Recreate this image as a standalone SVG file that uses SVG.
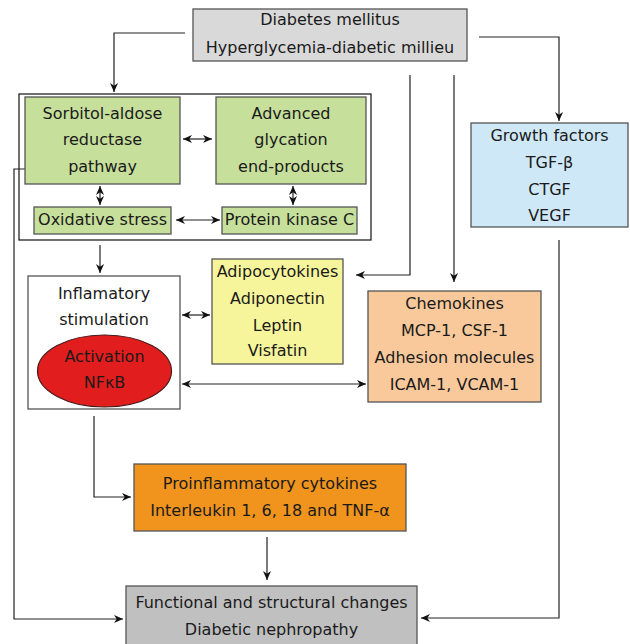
<svg xmlns="http://www.w3.org/2000/svg" width="630" height="644" viewBox="0 0 630 644">
<defs>
<marker id="ah" viewBox="0 0 10 10" refX="10" refY="5" markerWidth="9" markerHeight="9" markerUnits="userSpaceOnUse" orient="auto-start-reverse">
<path d="M0,0.5 L10,5 L0,9.5 L3,5 Z" fill="#111"/>
</marker>
<style>
text{font-family:"DejaVu Sans","Verdana",sans-serif;font-size:16px;fill:#1a1a1a;text-anchor:middle}
.box{stroke:#555;stroke-width:1.3}
.c{fill:none;stroke:#222;stroke-width:1.2}
.a{marker-end:url(#ah)}
.d{marker-start:url(#ah);marker-end:url(#ah)}
</style>
</defs>
<rect width="630" height="644" fill="#fff"/>
<g id="metabolic-group">
<rect x="19" y="94" width="352" height="146" fill="none" stroke="#111" stroke-width="1.2"/>
</g>
<g id="connectors">
<polyline class="c a" points="185,33 114,33 114,92"/>
<polyline class="c a" points="479,37 559,37 559,121"/>
<polyline class="c a" points="410,75 410,275 356,275"/>
<polyline class="c a" points="454,75 454,282"/>
<polyline class="c a" points="25,169 14,169 14,619 123,619"/>
<polyline class="c a" points="559,240 559,618 421,618"/>
<polyline class="c a" points="100,245 100,273"/>
<polyline class="c a" points="94,416 94,497 131,497"/>
<polyline class="c a" points="267,537 267,580"/>
<line class="c d" x1="183" y1="139" x2="212" y2="139"/>
<line class="c d" x1="176" y1="220" x2="220" y2="220"/>
<line class="c d" x1="100" y1="186" x2="100" y2="205"/>
<line class="c d" x1="293" y1="186" x2="293" y2="205"/>
<line class="c d" x1="182" y1="315" x2="210" y2="315"/>
<line class="c d" x1="182" y1="384" x2="366" y2="384"/>
</g>
<g id="diabetes">
<rect class="box" x="193" y="9" width="274" height="52" fill="#d9d9d9"/>
<text x="330" y="25">Diabetes mellitus</text>
<text x="330" y="53">Hyperglycemia-diabetic millieu</text>
</g>
<g id="sorbitol">
<rect class="box" x="25" y="97" width="155" height="87" fill="#c6df9b" stroke="#3d4a2a"/>
<text x="102.5" y="119">Sorbitol-aldose</text>
<text x="102.5" y="145">reductase</text>
<text x="102.5" y="172">pathway</text>
</g>
<g id="age">
<rect class="box" x="216" y="97" width="150" height="87" fill="#c6df9b" stroke="#3d4a2a"/>
<text x="291" y="119">Advanced</text>
<text x="291" y="145">glycation</text>
<text x="291" y="172">end-products</text>
</g>
<g id="oxidative">
<rect class="box" x="34" y="207" width="137" height="27" fill="#c6df9b" stroke="#3d4a2a"/>
<text x="102.5" y="225">Oxidative stress</text>
</g>
<g id="pkc">
<rect class="box" x="222" y="207" width="135" height="27" fill="#c6df9b" stroke="#3d4a2a"/>
<text x="289.5" y="225">Protein kinase C</text>
</g>
<g id="growth">
<rect class="box" x="471" y="123" width="157" height="104" fill="#cfe8f8"/>
<text x="549.5" y="141">Growth factors</text>
<text x="549.5" y="168">TGF-β</text>
<text x="549.5" y="195">CTGF</text>
<text x="549.5" y="221">VEGF</text>
</g>
<g id="inflammatory">
<rect class="box" x="28" y="276" width="152" height="133" fill="#fff" stroke="#777"/>
<text x="104" y="299">Inflamatory</text>
<text x="104" y="325">stimulation</text>
<ellipse cx="104.5" cy="371" rx="67" ry="36" fill="#e21d1d" stroke="#4a1a1a" stroke-width="1.2"/>
<text x="104.5" y="362">Activation</text>
<text x="104.5" y="388">NFκB</text>
</g>
<g id="adipocytokines">
<rect class="box" x="212" y="259" width="131" height="105" fill="#f7f59b"/>
<text x="277.5" y="277">Adipocytokines</text>
<text x="277.5" y="304">Adiponectin</text>
<text x="277.5" y="331">Leptin</text>
<text x="277.5" y="356">Visfatin</text>
</g>
<g id="chemokines">
<rect class="box" x="368" y="291" width="173" height="111" fill="#f9c99c"/>
<text x="454.5" y="309">Chemokines</text>
<text x="454.5" y="336">MCP-1, CSF-1</text>
<text x="454.5" y="363">Adhesion molecules</text>
<text x="454.5" y="390">ICAM-1, VCAM-1</text>
</g>
<g id="proinflammatory">
<rect class="box" x="134" y="464" width="272" height="67" fill="#f0941e"/>
<text x="270" y="489">Proinflammatory cytokines</text>
<text x="270" y="516">Interleukin 1, 6, 18 and TNF-α</text>
</g>
<g id="nephropathy">
<rect class="box" x="126" y="586" width="291" height="64" fill="#c0c0c0"/>
<text x="271.5" y="608">Functional and structural changes</text>
<text x="271.5" y="635">Diabetic nephropathy</text>
</g>
</svg>
